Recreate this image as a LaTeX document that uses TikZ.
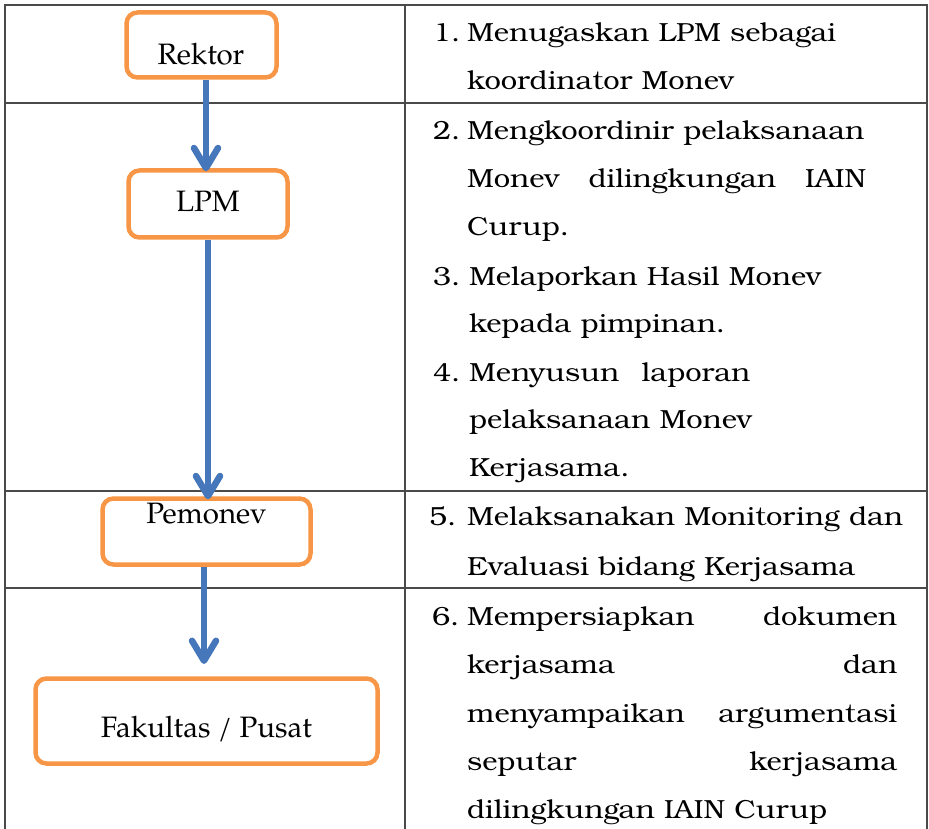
\documentclass[tikz,border=0pt]{standalone}
\usepackage{fontspec}
\setmainfont[FakeStretch=1.11]{texgyrebonum-regular.otf}
\newfontfamily\boxfont{texgyrepagella-regular.otf}
\usetikzlibrary{arrows.meta}
\definecolor{boxorange}{HTML}{F79646}
\definecolor{arrblue}{HTML}{4677BB}
\definecolor{tabline}{HTML}{4A4A4A}
\tikzset{
  flowbox/.style={draw=boxorange, line width=4.5pt, rounded corners=11pt, fill=none},
  flowarrow/.style={draw=arrblue, line width=6.5pt, -{Straight Barb[length=20pt,width=24pt,round]}},
  boxlabel/.style={inner sep=0pt, anchor=base, font=\boxfont\fontsize{29.5}{32}\selectfont},
  rowtext/.style={inner sep=0pt, anchor=base west, font=\fontsize{26.2}{30}\selectfont},
  tabrule/.style={draw=tabline, line width=1.6pt},
}
\begin{document}
\begin{tikzpicture}[x=1pt,y=-1pt]
\useasboundingbox (0,0) rectangle (929,829);
% table
\coordinate (tl) at (5,5);
\coordinate (tr) at (927,5);
\coordinate (tm) at (405,5);
\coordinate (bl) at (5,829);
\coordinate (br) at (927,829);
\coordinate (bm) at (405,829);
\draw[tabrule] (bl) -- (tl) -- (tr) -- (br);
\draw[tabrule] (tm) -- (bm);
\coordinate (r1l) at (5,103); \coordinate (r1r) at (927,103);
\coordinate (r2l) at (5,491); \coordinate (r2r) at (927,491);
\coordinate (r3l) at (5,588); \coordinate (r3r) at (927,588);
\draw[tabrule] (r1l) -- (r1r);
\draw[tabrule] (r2l) -- (r2r);
\draw[tabrule] (r3l) -- (r3r);
% boxes
\draw[flowbox] (126.5,12.5) rectangle (276.5,77.5);
\node[inner sep=0pt, minimum width=150pt, minimum height=65pt] (rekb) at (201.5,45) {};
\node[boxlabel] (rekt) at (201,65) {Rektor};

\draw[flowbox] (128.5,170.5) rectangle (287.5,237.5);
\node[inner sep=0pt, minimum width=159pt, minimum height=67pt] (lpmb) at (208,204) {};
\node[boxlabel] (lpmt) at (208,212) {LPM};

\draw[flowbox] (102.5,498.5) rectangle (310.5,564.5);
\node[inner sep=0pt, minimum width=208pt, minimum height=66pt] (pemb) at (206.5,531.5) {};
\node[boxlabel] (pemt) at (206.5,523) {Pemonev};

\draw[flowbox] (35.5,678.5) rectangle (377.5,763.5);
\node[inner sep=0pt, minimum width=342pt, minimum height=85pt] (fakb) at (206.5,721) {};
\node[boxlabel] (fakt) at (206.5,737) {Fakultas / Pusat};

% arrows
\coordinate (a1) at (206,0);
\coordinate (a2) at (208,0);
\coordinate (a3) at (204,0);
\coordinate (a3end) at (204,664);
\draw[flowarrow] ([yshift=-2pt]rekb.south -| a1) -- ([yshift=-1pt]lpmb.north -| a1);
\draw[flowarrow] ([yshift=-2pt]lpmb.south -| a2) -- ([yshift=-1pt]pemb.north -| a2);
\draw[flowarrow] ([yshift=-2pt]pemb.south -| a3) -- (a3end);

% right column text
\node[rowtext] (n1) at (433,42) {1.};
\node[rowtext] (l1a) at (467,42) {Menugaskan LPM sebagai};
\node[rowtext] (l1b) at (467,90) {koordinator Monev};

\node[rowtext] (n2) at (433,140) {2.};
\node[rowtext] (l2a) at (467,140) {Mengkoordinir pelaksanaan};
\node[rowtext] (l2b) at (467,188) {\makebox[399pt][l]{Monev\hfill dilingkungan\hfill IAIN}};
\node[rowtext] (l2c) at (467,236) {Curup.};
\node[rowtext] (n3) at (433,285) {3.};
\node[rowtext] (l3a) at (469,285) {Melaporkan Hasil Monev};
\node[rowtext] (l3b) at (469,332) {kepada pimpinan.};
\node[rowtext] (n4) at (433,381) {4.};
\node[rowtext] (l4a) at (469,381) {Menyusun\hspace{0.5em} laporan};
\node[rowtext] (l4b) at (469,428) {pelaksanaan Monev};
\node[rowtext] (l4c) at (469,476) {Kerjasama.};

\node[rowtext] (n5) at (429,525) {5.};
\node[rowtext] (l5a) at (467,525) {Melaksanakan Monitoring dan};
\node[rowtext] (l5b) at (467,575) {Evaluasi bidang Kerjasama};

\node[rowtext] (n6) at (432,625) {6.};
\node[rowtext] (l6a) at (467,625) {\makebox[430pt][l]{Mempersiapkan\hfill dokumen}};
\node[rowtext] (l6b) at (467,673) {\makebox[430pt][l]{kerjasama\hfill dan}};
\node[rowtext] (l6c) at (467,722) {\makebox[430pt][l]{menyampaikan\hfill argumentasi}};
\node[rowtext] (l6d) at (467,770) {\makebox[430pt][l]{seputar\hfill kerjasama}};
\node[rowtext] (l6e) at (467,818) {dilingkungan IAIN Curup};
\end{tikzpicture}
\end{document}
